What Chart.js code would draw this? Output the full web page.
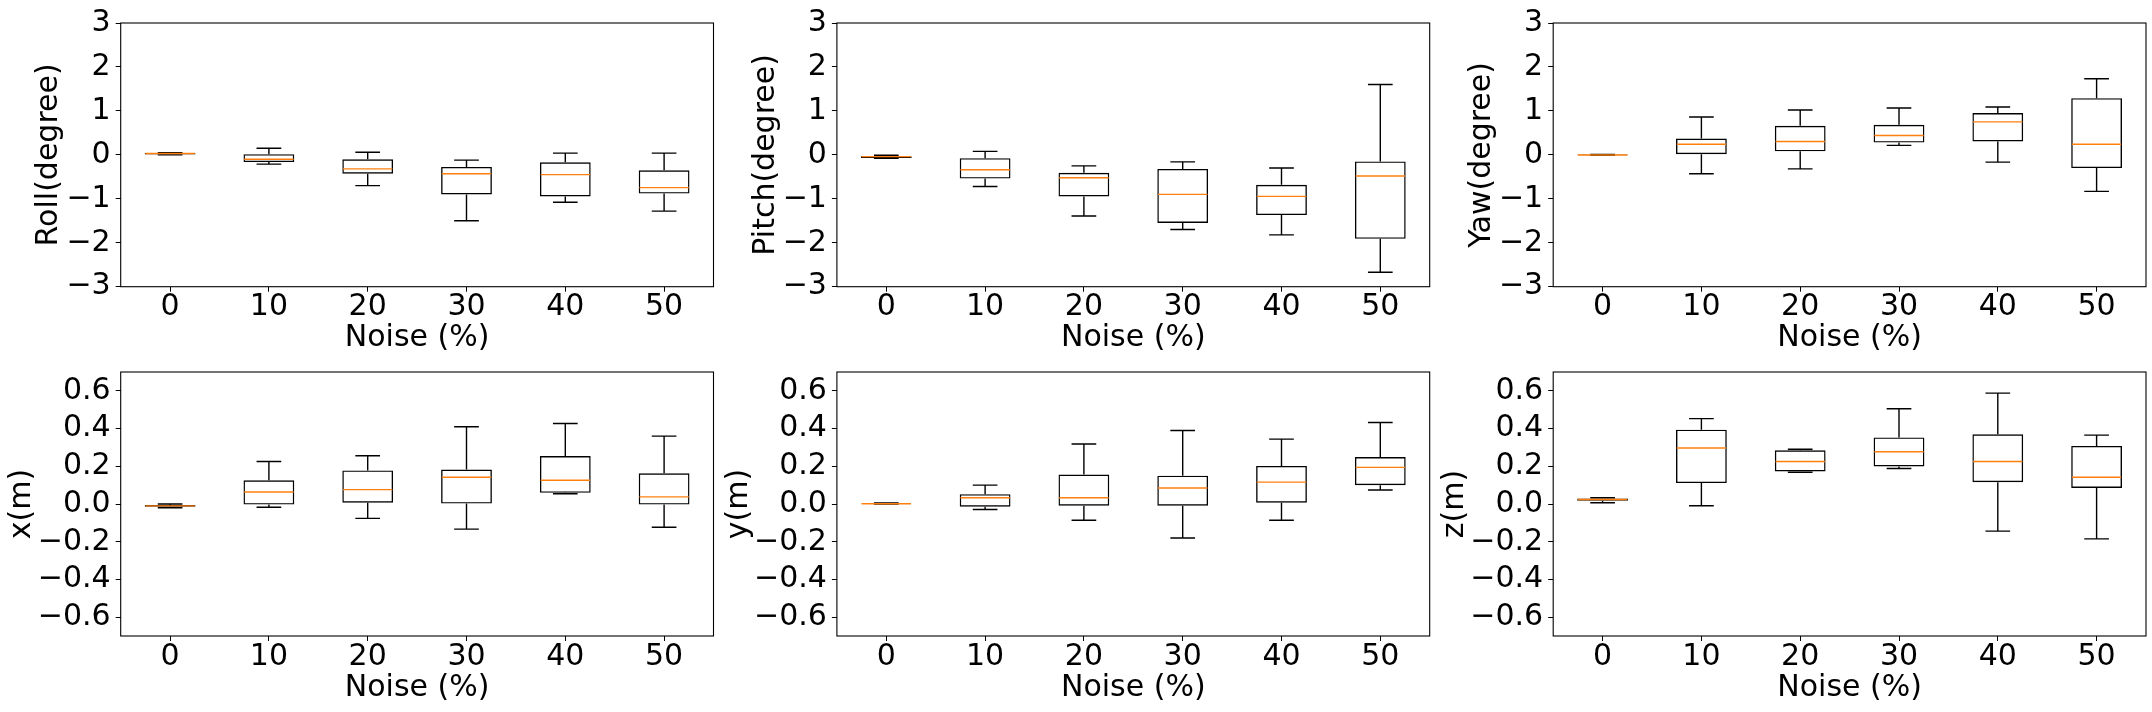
<!DOCTYPE html>
<html><head><meta charset="utf-8">
<script src="https://cdn.jsdelivr.net/npm/chart.js@4.4.1/dist/chart.umd.min.js"></script>
<style>
html,body{margin:0;padding:0;background:#fff;}
#wrap{position:relative;width:2152px;height:712px;overflow:hidden;background:#fff;}
canvas{position:absolute;}
</style></head><body><div id="wrap"></div>
<script>
// ---------- data ----------
const noiseLabels = ['0','10','20','30','40','50'];
const degTicks = [-3,-2,-1,0,1,2,3];
const degTickLabels = ['−3','−2','−1','0','1','2','3'];
const mTicks = [-0.6,-0.4,-0.2,0,0.2,0.4,0.6];
const mTickLabels = ['−0.6','−0.4','−0.2','0.0','0.2','0.4','0.6'];

// Roll (degree)
const rollLow  = [0.00,-0.21,-0.70,-1.50,-1.08,-1.28];
const rollQ1   = [0.01,-0.165,-0.43,-0.90,-0.945,-0.88];
const rollMed  = [0.03,-0.10,-0.32,-0.43,-0.45,-0.745];
const rollQ3   = [0.04,0.015,-0.10,-0.275,-0.17,-0.35];
const rollHigh = [0.05,0.15,0.06,-0.12,0.04,0.04];
// Pitch (degree)
const pitchLow  = [-0.08,-0.72,-1.39,-1.70,-1.82,-2.67];
const pitchQ1   = [-0.07,-0.54,-0.945,-1.55,-1.37,-1.91];
const pitchMed  = [-0.04,-0.34,-0.52,-0.90,-0.945,-0.48];
const pitchQ3   = [-0.03,-0.075,-0.41,-0.32,-0.68,-0.15];
const pitchHigh = [-0.01,0.08,-0.25,-0.16,-0.30,1.60];
// Yaw (degree)
const yawLow  = [-0.01,-0.43,-0.32,0.215,-0.165,-0.83];
const yawQ1   = [-0.01,0.015,0.08,0.28,0.305,-0.30];
const yawMed  = [-0.005,0.24,0.305,0.44,0.75,0.24];
const yawQ3   = [0.01,0.37,0.66,0.685,0.95,1.29];
const yawHigh = [0.01,0.86,1.02,1.065,1.09,1.73];
// x (m)
const xLow  = [-0.02,-0.017,-0.076,-0.133,0.054,-0.123];
const xQ1   = [-0.015,-0.003,0.007,0.002,0.059,-0.003];
const xMed  = [-0.01,0.064,0.076,0.142,0.126,0.038];
const xQ3   = [-0.005,0.126,0.178,0.183,0.254,0.163];
const xHigh = [0.0,0.225,0.256,0.41,0.427,0.36];
// y (m)
const yLow  = [0.0,-0.029,-0.086,-0.18,-0.086,0.074];
const yQ1   = [0.0,-0.014,-0.009,-0.009,0.007,0.10];
const yMed  = [0.001,0.033,0.033,0.085,0.116,0.194];
const yQ3   = [0.004,0.052,0.156,0.15,0.202,0.249];
const yHigh = [0.005,0.10,0.318,0.39,0.344,0.432];
// z (m)
const zLow  = [0.007,-0.009,0.168,0.188,-0.144,-0.185];
const zQ1   = [0.017,0.111,0.173,0.199,0.116,0.085];
const zMed  = [0.024,0.297,0.225,0.277,0.225,0.142];
const zQ3   = [0.029,0.394,0.285,0.353,0.37,0.308];
const zHigh = [0.033,0.453,0.29,0.505,0.588,0.365];

// ---------- layout ----------
const colLefts = [120.7, 836.9, 1553.2];
const plotW = 592.8;
const rowTops = [18.3, 367.3];
const rowBottoms = [286.7, 636.0];

const panels = [
  {title:'Roll(degree)',  lo:rollLow,  q1:rollQ1,  med:rollMed,  q3:rollQ3,  hi:rollHigh,  row:0, col:0},
  {title:'Pitch(degree)', lo:pitchLow, q1:pitchQ1, med:pitchMed, q3:pitchQ3, hi:pitchHigh, row:0, col:1},
  {title:'Yaw(degree)',   lo:yawLow,   q1:yawQ1,   med:yawMed,   q3:yawQ3,   hi:yawHigh,   row:0, col:2},
  {title:'x(m)', lo:xLow, q1:xQ1, med:xMed, q3:xQ3, hi:xHigh, row:1, col:0},
  {title:'y(m)', lo:yLow, q1:yQ1, med:yMed, q3:yQ3, hi:yHigh, row:1, col:1},
  {title:'z(m)', lo:zLow, q1:zQ1, med:zMed, q3:zQ3, hi:zHigh, row:1, col:2}
];

const FONT = "'DejaVu Sans', sans-serif";
const LW = 1.4;

const boxPlugin = {
  id: 'boxWhiskers',
  afterDatasetsDraw(chart, args, opts) {
    const ctx = chart.ctx;
    const ys = chart.scales.y;
    const meta = chart.getDatasetMeta(0);
    ctx.save();
    ctx.lineWidth = LW;
    ctx.lineCap = 'butt';
    meta.data.forEach((bar, i) => {
      const x = bar.x;
      const w = bar.width - LW;
      const yLo = ys.getPixelForValue(opts.lo[i]);
      const yQ1 = ys.getPixelForValue(opts.q1[i]);
      const yQ3 = ys.getPixelForValue(opts.q3[i]);
      const yHi = ys.getPixelForValue(opts.hi[i]);
      const yMd = ys.getPixelForValue(opts.med[i]);
      ctx.strokeStyle = '#000';
      ctx.beginPath();
      ctx.moveTo(x, yQ1); ctx.lineTo(x, yLo);
      ctx.moveTo(x, yQ3); ctx.lineTo(x, yHi);
      ctx.moveTo(x - w/4, yLo); ctx.lineTo(x + w/4, yLo);
      ctx.moveTo(x - w/4, yHi); ctx.lineTo(x + w/4, yHi);
      ctx.stroke();
      ctx.strokeStyle = '#ff7f0e';
      ctx.beginPath();
      ctx.moveTo(x - w/2, yMd); ctx.lineTo(x + w/2, yMd);
      ctx.stroke();
    });
    const a = chart.chartArea;
    ctx.strokeStyle = '#000';
    ctx.lineWidth = 1.1;
    ctx.strokeRect(a.left, a.top, a.right - a.left, a.bottom - a.top);
    ctx.restore();
  }
};

const wrap = document.getElementById('wrap');
panels.forEach(p => {
  const L = colLefts[p.col], R = L + plotW, T = rowTops[p.row], B = rowBottoms[p.row];
  const cl = Math.round(L - 121);
  const ct = Math.round(T - 18);
  const W = Math.round(R + 5 - cl);
  const H = Math.round(B + 72 - ct);
  const titleCenter = p.row === 0 ? L - 71 : L - 98;
  const padL = titleCenter - 18 - cl;
  const yw = L - cl - padL;
  const xh = 70;
  const padT = T - ct;
  const padR = cl + W - R;
  const padB = (ct + H) - B - xh;

  const cv = document.createElement('canvas');
  cv.width = W; cv.height = H;
  cv.style.left = cl + 'px'; cv.style.top = ct + 'px';
  cv.style.width = W + 'px'; cv.style.height = H + 'px';
  wrap.appendChild(cv);

  const tickVals = p.row === 0 ? degTicks : mTicks;
  const tickLabs = p.row === 0 ? degTickLabels : mTickLabels;

  new Chart(cv, {
    type: 'bar',
    data: {
      labels: noiseLabels,
      datasets: [{
        data: p.q1.map((v, i) => [v, p.q3[i]]),
        backgroundColor: 'rgba(255,255,255,0)',
        borderColor: '#000',
        borderWidth: LW,
        borderSkipped: false,
        barPercentage: 0.5 + LW / 98.8,
        categoryPercentage: 1.0
      }]
    },
    options: {
      responsive: false,
      devicePixelRatio: 1,
      animation: false,
      layout: { padding: { left: padL, right: padR, top: padT, bottom: padB } },
      plugins: {
        legend: { display: false },
        tooltip: { enabled: false },
        boxWhiskers: { lo: p.lo, q1: p.q1, med: p.med, q3: p.q3, hi: p.hi }
      },
      scales: {
        x: {
          offset: true,
          grid: { display: true, drawOnChartArea: false, drawTicks: true, tickLength: 5, offset: false, color: '#000', tickWidth: 1 },
          border: { display: false },
          ticks: { color: '#000', font: { family: FONT, size: 30 }, padding: -2, maxRotation: 0, autoSkip: false },
          title: { display: true, text: 'Noise (%)', color: '#000', font: { family: FONT, size: 30 }, padding: 0 },
          afterFit: s => { s.height = xh; }
        },
        y: {
          min: p.row === 0 ? -3 : -0.7,
          max: p.row === 0 ? 3 : 0.7,
          grid: { display: true, drawOnChartArea: false, drawTicks: true, tickLength: 5, color: '#000', tickWidth: 1 },
          border: { display: false },
          afterBuildTicks: s => { s.ticks = tickVals.map(v => ({ value: v })); },
          ticks: { color: '#000', font: { family: FONT, size: 30 }, padding: 5,
                   callback: (v, i) => tickLabs[i] },
          title: { display: true, text: p.title, color: '#000', font: { family: FONT, size: 30 }, padding: 0 },
          afterFit: s => { s.width = yw; }
        }
      }
    },
    plugins: [boxPlugin]
  });
});
</script>
</body></html>
